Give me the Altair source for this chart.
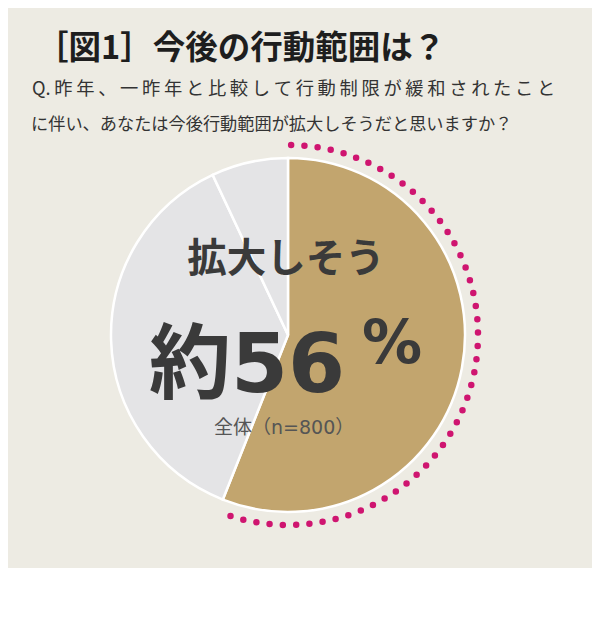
import altair as alt
import pandas as pd

# ---- data ----
categories = ["拡大しそう", "変わらない", "縮小しそう"]
shares = [56, 37, 7]
slice_order = [1, 2, 3]
slice_colors = ["#C2A56E", "#E4E4E6", "#E4E4E6"]

title_text = "［図1］今後の行動範囲は？"
question_line1 = "Q.昨年、一昨年と比較して行動制限が緩和されたこと"
question_line2 = "に伴い、あなたは今後行動範囲が拡大しそうだと思いますか？"
headline_text = "拡大しそう"
big_value_text = "約56"
pct_text = "%"
sample_text = "全体（n=800）"

# ---- styles ----
BG = "#EDEBE3"
PINK = "#CF1570"
DARK = "#3A3A3A"
JP = "Noto Sans CJK JP"
WIDE = "DejaVu Sans, Noto Sans CJK JP"
CX, CY = 280, 327  # pie centre inside the view

# the first line is set with wide letter spacing in the original
spaced_line1 = question_line1[:2] + "\u2009" + "\u2009".join(question_line1[2:])

df = pd.DataFrame({"category": categories, "share": shares, "order": slice_order})

pie = alt.Chart(df).mark_arc(outerRadius=177, stroke="white", strokeWidth=2.5).encode(
    theta=alt.Theta("share:Q", stack=True),
    color=alt.Color("category:N", scale=alt.Scale(domain=categories, range=slice_colors), legend=None),
    order=alt.Order("order:Q"),
    x=alt.value(CX),
    y=alt.value(CY),
)

dot_gap = 13.3
dash = [0, dot_gap] * 49 + [0, 5000]
dots = alt.Chart(df).transform_filter(alt.datum.order == 1).mark_arc(
    outerRadius=190, innerRadius=190, fillOpacity=0, stroke=PINK,
    strokeWidth=6.5, strokeCap="round", strokeDash=dash, strokeDashOffset=-dot_gap,
).encode(
    theta=alt.Theta("share:Q", stack=True),
    x=alt.value(CX),
    y=alt.value(CY),
)


def label(txt, x, y, size, weight="normal", color="#333333", font=JP, align="left", baseline="middle"):
    return alt.Chart(pd.DataFrame({"t": [txt]})).mark_text(
        font=font, fontSize=size, fontWeight=weight, color=color, align=align, baseline=baseline,
    ).encode(text="t:N", x=alt.value(x), y=alt.value(y))


texts = [
    label(title_text, 28, 41, 32.5, "bold", "#1E1E1E"),
    label(spaced_line1, 24, 82, 18.3, "normal", "#333333"),
    label(question_line2, 23, 117, 17.2, "normal", "#333333"),
    label(headline_text, 278, 252, 39.5, "bold", DARK, align="center"),
    label(big_value_text, 141, 384, 82, "bold", DARK, font=WIDE, baseline="alphabetic"),
    label(pct_text, 354, 355, 60, "bold", DARK, font=WIDE, baseline="alphabetic"),
    label(sample_text, 206, 420, 19, "normal", "#555555", font=WIDE),
]

chart = alt.layer(pie, dots, *texts).properties(
    width=584,
    height=560,
    autosize=alt.AutoSizeParams(type="none"),
    padding=0,
    background=BG,
).configure_view(strokeWidth=0)

chart.save("out.html", embed_options={"renderer": "svg", "actions": False})
